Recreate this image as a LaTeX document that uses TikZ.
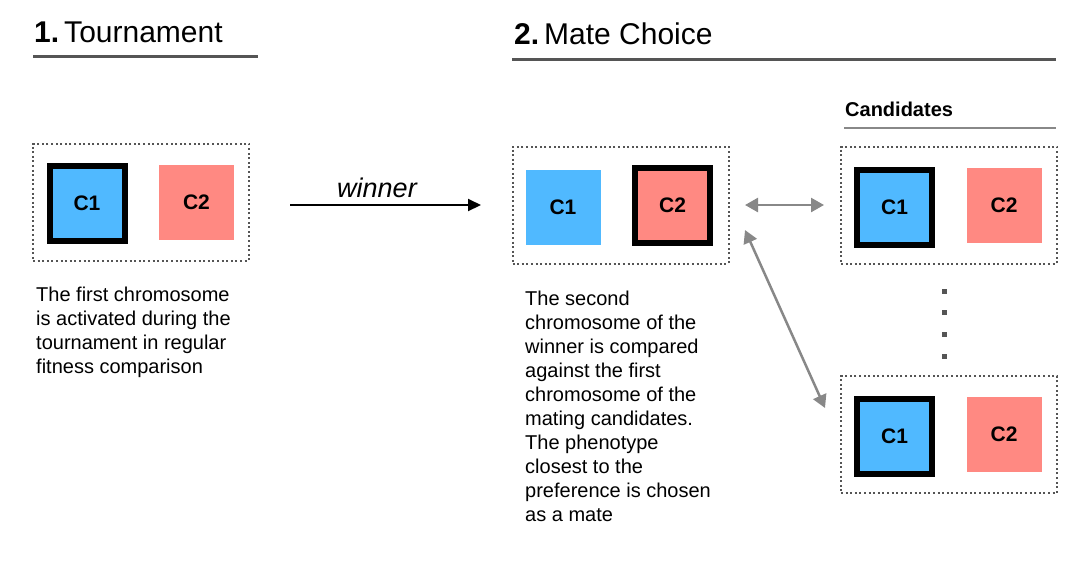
\documentclass[tikz,border=0pt]{standalone}
\usepackage{fontspec}
\setmainfont{Liberation Sans}
\usetikzlibrary{arrows.meta}
\definecolor{chrblue}{RGB}{80,185,255}
\definecolor{chrred}{RGB}{255,137,130}
\definecolor{boxgray}{RGB}{85,85,85}
\definecolor{arrgray}{RGB}{136,136,136}
\tikzset{
  group/.style={draw=boxgray, line width=2pt, dash pattern=on 2pt off 2.6pt, minimum width=216pt, minimum height=117pt, inner sep=0pt},
  chrom/.style={inner sep=0pt, font=\fontsize{21}{24}\selectfont\bfseries},
  plainc/.style={chrom, minimum size=75pt},
  activec/.style={chrom, draw=black, line width=6pt, minimum size=75pt},
  para/.style={anchor=north west, inner sep=0pt, align=left, font=\fontsize{20}{24}\selectfont},
  title/.style={anchor=base west, inner sep=0pt, font=\fontsize{30}{34}\selectfont},
  rule/.style={draw=boxgray, line width=3pt},
  grayarrow/.style={draw=arrgray, line width=2.5pt, {Triangle[length=13pt,width=14pt]}-{Triangle[length=13pt,width=14pt]}}
}
\begin{document}
\begin{tikzpicture}[x=1pt,y=-1pt]
\useasboundingbox (0,0) rectangle (1083,566);
% titles
\node[title] (t1) at (34,42) {\textbf{1.}\hspace{5pt}Tournament};
\draw[rule] (33,56) -- (258,56);
\node[title] (t2) at (514,44) {\textbf{2.}\hspace{5pt}Mate Choice};
\draw[rule] (512,59) -- (1056,59);
\node[anchor=base west, inner sep=0pt, font=\fontsize{20}{24}\selectfont\bfseries] (cand) at (845,116) {Candidates};
\draw[draw=arrgray, line width=2pt] (844,128) -- (1056,128);
% group boxes
\node[group] (g1) at (141,202) {};
\node[group] (g2) at (620.5,205) {};
\node[group] (g3) at (949,205) {};
\node[group] (g4) at (949,434.5) {};
% chromosomes
\node[activec, fill=chrblue] (a1) at (87,203.5) {C1};
\node[plainc, fill=chrred] (a2) at (196.5,202.5) {C2};
\node[plainc, fill=chrblue] (b1) at (563,207) {C1};
\node[activec, fill=chrred] (b2) at (672.5,205.5) {C2};
\node[activec, fill=chrblue] (c1) at (894.5,207) {C1};
\node[plainc, fill=chrred] (c2) at (1004,205.5) {C2};
\node[activec, fill=chrblue] (d1) at (894.5,436) {C1};
\node[plainc, fill=chrred] (d2) at (1004,434.5) {C2};
% winner arrow
\coordinate (w1) at (290,205);
\coordinate (w2) at (481,205);
\draw[line width=2pt, -{Triangle[length=13pt,width=12pt]}] (w1) -- (w2);
\node[anchor=base, inner sep=0pt, font=\fontsize{27}{32}\selectfont\itshape] (win) at (377,197) {winner};
% comparison arrows
\coordinate (h1) at (745,205);
\coordinate (h2) at (824,205);
\draw[grayarrow] (h1) -- (h2);
\coordinate (d1s) at (745,230);
\coordinate (d1e) at (825,408);
\draw[grayarrow] (d1s) -- (d1e);
% ellipsis dots
\foreach \yy in {291,312,334,356} \fill[boxgray] (941.5,\yy-2.5) rectangle (946.5,\yy+2.5);
% descriptions
\node[para] (p1) at (36,287) {The first chromosome\\is activated during the\\tournament in regular\\fitness comparison};
\node[para] (p2) at (525,291) {The second\\chromosome of the\\winner is compared\\against the first\\chromosome of the\\mating candidates.\\The phenotype\\closest to the\\preference is chosen\\as a mate};
\end{tikzpicture}
\end{document}
